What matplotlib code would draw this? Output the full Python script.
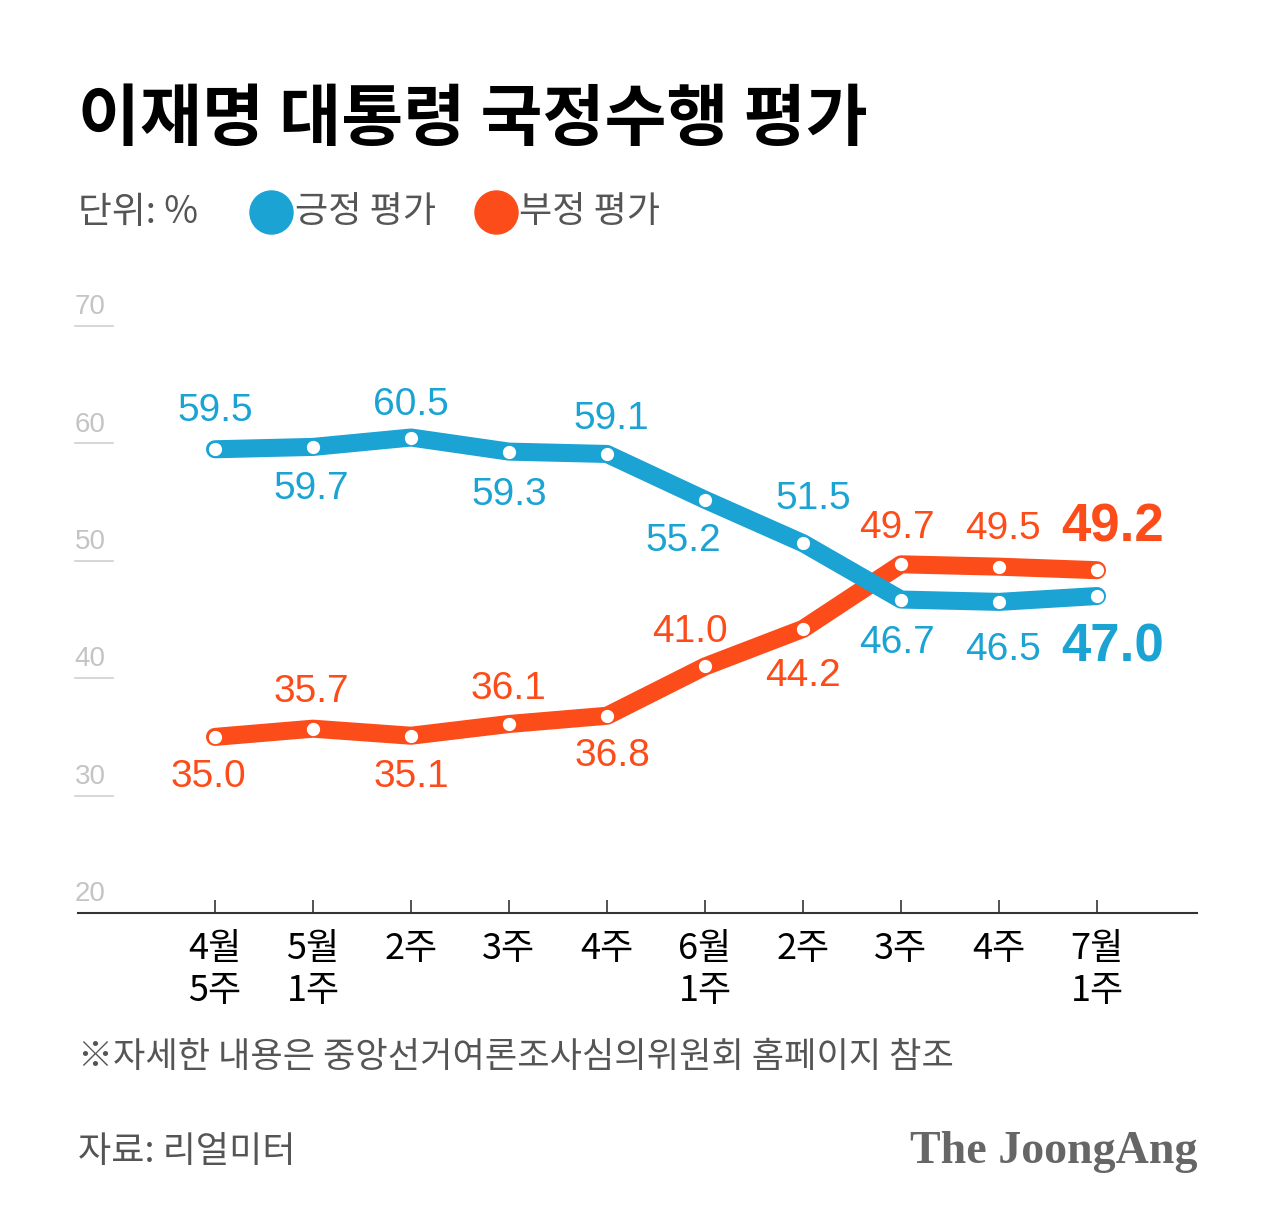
import matplotlib
matplotlib.use('Agg')
import matplotlib.pyplot as plt

KR = ['Noto Sans CJK KR', 'DejaVu Sans']
NUM = ['Liberation Sans', 'DejaVu Sans']

weeks = ['4월\n5주', '5월\n1주', '2주', '3주', '4주', '6월\n1주', '2주', '3주', '4주', '7월\n1주']
positive = [59.5, 59.7, 60.5, 59.3, 59.1, 55.2, 51.5, 46.7, 46.5, 47.0]
negative = [35.0, 35.7, 35.1, 36.1, 36.8, 41.0, 44.2, 49.7, 49.5, 49.2]
yticks = [20, 30, 40, 50, 60, 70]

BLUE = '#1ba3d4'
ORANGE = '#fc4c1a'

# label offsets in pixels (dx, dy) relative to each point
pos_off = [(0, 38), (-2, -42), (0, 33), (0, -43), (4, 35), (-22, -41), (10, 44), (-4, -43), (4, -48), (16, -51)]
neg_off = [(-7, -40), (-2, 37), (0, -41), (-1, 35), (5, -40), (-15, 34), (0, -47), (-4, 36), (4, 38), (16, 43)]

fig = plt.figure(figsize=(12.8, 12.32), dpi=100)
W, H = 1280, 1232
ax = fig.add_axes([78 / W, (H - 913) / H, (1197 - 78) / W, (913 - 326) / H])
x = list(range(len(weeks)))
ax.set_xlim((78 - 215) / 98, (1197 - 215) / 98)
ax.set_ylim(20, 70)

for vals, col, offs in [(negative, ORANGE, neg_off), (positive, BLUE, pos_off)]:
    ax.plot(x, vals, color=col, lw=13, solid_capstyle='round', solid_joinstyle='round', zorder=3)
    ax.plot(x, vals, 'o', color='white', ms=8.5, zorder=4)
    for i, v in enumerate(vals):
        last = i == len(vals) - 1
        ax.annotate(f'{v:.1f}', (i, v), xytext=offs[i], textcoords='offset pixels',
                    ha='center', va='center', color=col, family=NUM,
                    fontsize=38 if last else 28, fontweight='bold' if last else 'normal',
                    zorder=5)

# short gray gridlines with labels above
for t in yticks[1:]:
    ax.plot([-0.003, 0.031], [t, t], color='#d0d0d0', lw=1.2,
            transform=ax.get_yaxis_transform(), clip_on=False)
for t in yticks:
    ax.text(-0.003, t + 1.6, str(t), transform=ax.get_yaxis_transform(),
            ha='left', va='center', color='#c4c4c4', fontsize=20, family=NUM)

for s in ['top', 'right', 'left']:
    ax.spines[s].set_visible(False)
ax.spines['bottom'].set_color('#333333')
ax.spines['bottom'].set_linewidth(1.5)
ax.set_yticks([])
ax.set_xticks(x)
ax.set_xticklabels(weeks, family=KR, fontsize=26, fontweight='medium', color='black', linespacing=1.22)
ax.tick_params(axis='x', direction='in', length=9.5, width=1.2, color='#333333', pad=13)

# title and legend
fig.text(78 / W, 1 - 120 / H, '이재명 대통령 국정수행 평가', family=KR, fontsize=48.5,
         fontweight='black', va='center', ha='left', color='black')
fig.text(78 / W, 1 - 212 / H, '단위: %', family=KR, fontsize=26.5, va='center', ha='left', color='#555555')
for cx, col, lab, tx in [(271, BLUE, '긍정 평가', 295), (496, ORANGE, '부정 평가', 519)]:
    fig.add_artist(plt.Line2D([cx / W], [1 - 212 / H], marker='o', ms=31, color=col,
                              transform=fig.transFigure))
    fig.text(tx / W, 1 - 212 / H, lab, family=KR, fontsize=26, va='center', ha='left', color='#555555')

fig.text(78 / W, 1 - 1057 / H, '※자세한 내용은 중앙선거여론조사심의위원회 홈페이지 참조', family=KR,
         fontsize=25.3, va='center', ha='left', color='#555555')
fig.text(78 / W, 1 - 1152 / H, '자료: 리얼미터', family=KR, fontsize=26, va='center', ha='left', color='#555555')
fig.text(1197 / W, 1 - 1152 / H, 'The JoongAng', family=['Liberation Serif', 'DejaVu Serif'],
         fontsize=33, fontweight='bold', va='center', ha='right', color='#666666')

fig.savefig('out.png', dpi=100, facecolor='white')
